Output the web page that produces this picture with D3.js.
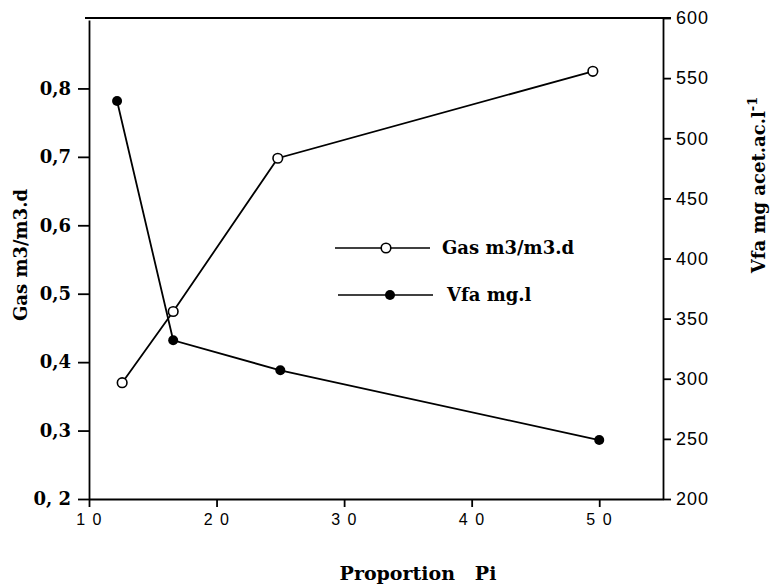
<!doctype html>
<html>
<head>
<meta charset="utf-8">
<style>
  body { margin: 0; background: #fff; }
  .serif { font-family: "DejaVu Serif", "Liberation Serif", serif; font-weight: bold; }
  .sans { font-family: "Liberation Sans", Arial, sans-serif; }
</style>
</head>
<body>
<div class="chart"></div>
<script src="https://d3js.org/d3.v7.min.js"></script>
<script>
// data
let gasX = [12.6, 16.6, 24.8, 49.5];
let gasY = [0.37, 0.474, 0.698, 0.825];
let vfaX = [12.2, 16.6, 25.0, 50.0];
let vfaY = [531, 332, 307, 249];

let xTicks = [10, 20, 30, 40, 50];
let xTickLabels = ["1 0", "2 0", "3 0", "4 0", "5 0"];
let leftTicks = [0.2, 0.3, 0.4, 0.5, 0.6, 0.7, 0.8];
let leftTickLabels = ["0, 2", "0,3", "0,4", "0,5", "0,6", "0,7", "0,8"];
let rightTicks = [200, 250, 300, 350, 400, 450, 500, 550, 600];

let width = 779, height = 587;
let plotTop = 18, plotBottom = 499, plotLeft = 89, plotRight = 663;

let svg = d3.select(".chart")
  .append("svg")
  .attr("width", width)
  .attr("height", height);

let scaleX = d3.scaleLinear().domain([10, 55]).range([plotLeft, plotRight]);
let scaleL = d3.scaleLinear().domain([0.2, 0.9]).range([plotBottom, plotTop + 2]);
let scaleR = d3.scaleLinear().domain([200, 600]).range([plotBottom, plotTop]);

// bottom axis
let xAxis = d3.axisBottom(scaleX)
  .tickValues(xTicks)
  .tickFormat((d, i) => xTickLabels[i])
  .tickSize(8).tickSizeOuter(0).tickPadding(7);
let gx = svg.append("g")
  .attr("transform", "translate(0," + plotBottom + ")")
  .call(xAxis);
gx.selectAll("text").attr("class", "sans").style("font-size", "16px")
  .style("letter-spacing", "1.5px");

// left axis
let yAxisL = d3.axisLeft(scaleL)
  .tickValues(leftTicks)
  .tickFormat((d, i) => leftTickLabels[i])
  .tickSize(11).tickSizeOuter(0).tickPadding(7);
let gl = svg.append("g")
  .attr("transform", "translate(" + plotLeft + ",0)")
  .call(yAxisL);
gl.selectAll("text").attr("class", "serif").style("font-size", "18px");

// right axis
let yAxisR = d3.axisRight(scaleR)
  .tickValues(rightTicks)
  .tickSize(8).tickSizeOuter(0).tickPadding(5);
let gr = svg.append("g")
  .attr("transform", "translate(" + plotRight + ",0)")
  .call(yAxisR);
gr.selectAll("text").attr("class", "sans").style("font-size", "18px")
  .style("letter-spacing", "1px");

svg.selectAll(".domain, .tick line").style("stroke", "#000").style("stroke-width", 1.8);
svg.selectAll(".tick text").style("fill", "#000");

// top frame line
svg.append("line")
  .attr("x1", plotLeft - 4).attr("x2", plotRight + 8)
  .attr("y1", plotTop).attr("y2", plotTop)
  .style("stroke", "#000").style("stroke-width", 1.8);

// series lines
let lineGas = d3.line()
  .x(function(d) { return scaleX(d.x); })
  .y(function(d) { return scaleL(d.y); });
let lineVfa = d3.line()
  .x(function(d) { return scaleX(d.x); })
  .y(function(d) { return scaleR(d.y); });

let gasData = gasX.map((x, i) => ({ x: x, y: gasY[i] }));
let vfaData = vfaX.map((x, i) => ({ x: x, y: vfaY[i] }));

svg.append("path")
  .attr("d", lineVfa(vfaData))
  .style("fill", "none").style("stroke", "#000").style("stroke-width", 1.8);
svg.append("path")
  .attr("d", lineGas(gasData))
  .style("fill", "none").style("stroke", "#000").style("stroke-width", 1.8);

svg.selectAll(".vfa").data(vfaData).enter().append("circle")
  .attr("cx", d => scaleX(d.x)).attr("cy", d => scaleR(d.y))
  .attr("r", 5).style("fill", "#000");
svg.selectAll(".gas").data(gasData).enter().append("circle")
  .attr("cx", d => scaleX(d.x)).attr("cy", d => scaleL(d.y))
  .attr("r", 4.8).style("fill", "#fff").style("stroke", "#000").style("stroke-width", 1.6);

// legend
let leg = svg.append("g");
leg.append("line").attr("x1", 335).attr("x2", 430).attr("y1", 248).attr("y2", 248)
  .style("stroke", "#000").style("stroke-width", 1.6);
leg.append("circle").attr("cx", 386).attr("cy", 248).attr("r", 4.8)
  .style("fill", "#fff").style("stroke", "#000").style("stroke-width", 1.6);
leg.append("text").attr("class", "serif").attr("x", 442).attr("y", 254)
  .style("font-size", "18px").text("Gas m3/m3.d");
leg.append("line").attr("x1", 338).attr("x2", 433).attr("y1", 295).attr("y2", 295)
  .style("stroke", "#000").style("stroke-width", 1.6);
leg.append("circle").attr("cx", 390).attr("cy", 295).attr("r", 5)
  .style("fill", "#000");
leg.append("text").attr("class", "serif").attr("x", 447).attr("y", 301)
  .style("font-size", "18px").text("Vfa mg.l");

// axis titles
svg.append("text").attr("class", "serif")
  .attr("transform", "translate(27,255) rotate(-90)")
  .attr("text-anchor", "middle").style("font-size", "18px")
  .text("Gas m3/m3.d");

let rt = svg.append("text").attr("class", "serif")
  .attr("transform", "translate(765,185) rotate(-90)")
  .attr("text-anchor", "middle").style("font-size", "18px");
rt.append("tspan").text("Vfa mg acet.ac.l");
rt.append("tspan").attr("dy", -8).style("font-size", "13px").text("-1");

svg.append("text").attr("class", "serif")
  .attr("x", 418).attr("y", 580)
  .attr("text-anchor", "middle").style("font-size", "19px")
  .style("white-space", "pre")
  .text("Proportion   Pi");
</script>
</body>
</html>
